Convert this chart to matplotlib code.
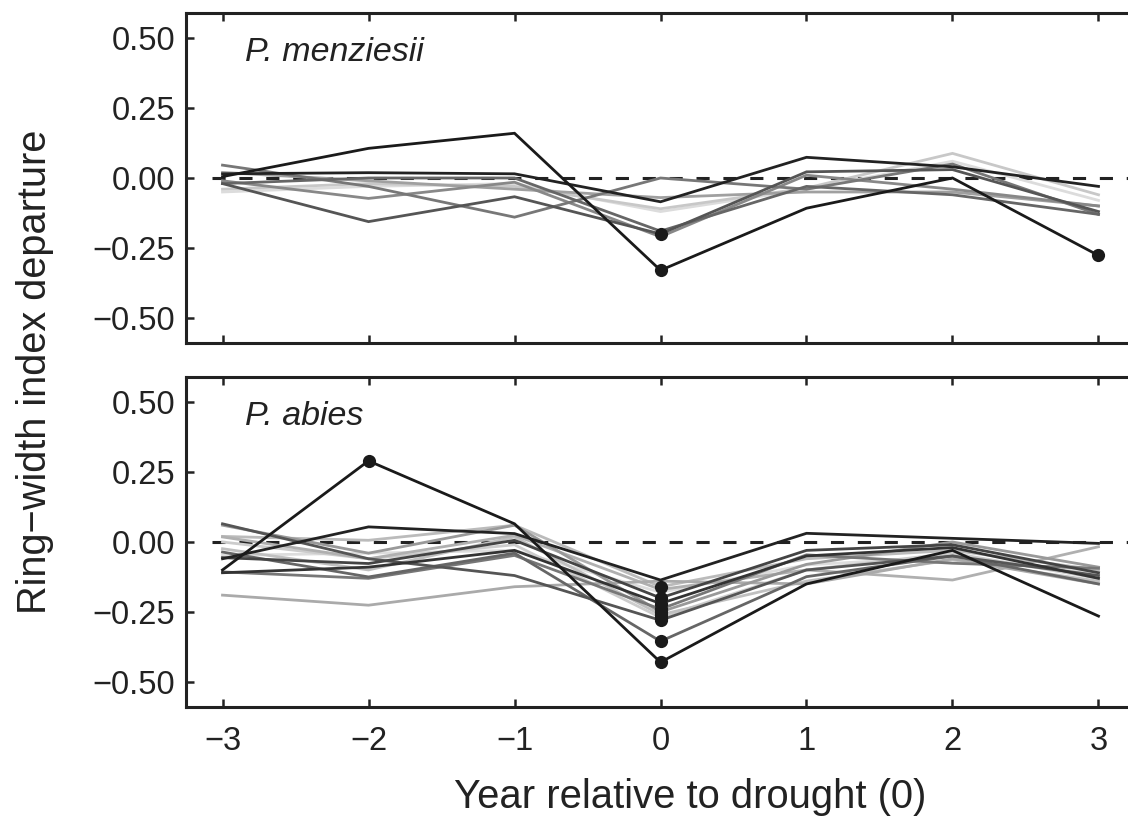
import matplotlib
matplotlib.use("Agg")
import matplotlib.pyplot as plt

plt.rcParams['font.family'] = ['Liberation Sans', 'DejaVu Sans']

years = [-3, -2, -1, 0, 1, 2, 3]
xtick_labels = ['\u22123', '\u22122', '\u22121', '0', '1', '2', '3']
yticks = [-0.50, -0.25, 0.0, 0.25, 0.50]

# P. menziesii: one series per site, grey level per series
menz_series = [
    [0.005, 0.106, 0.160, -0.330, -0.108, 0.000, -0.277],
    [0.015, 0.019, 0.015, -0.085, 0.074, 0.040, -0.030],
    [-0.020, -0.156, -0.067, -0.200, 0.022, 0.030, -0.120],
    [0.046, -0.030, -0.140, 0.000, -0.040, 0.050, -0.130],
    [-0.010, -0.073, -0.015, -0.210, 0.010, -0.040, -0.100],
    [-0.040, -0.020, -0.030, -0.110, -0.036, 0.088, -0.060],
    [-0.050, -0.030, -0.020, -0.120, -0.040, 0.060, -0.080],
    [0.020, -0.010, -0.040, -0.070, -0.050, -0.050, -0.100],
    [-0.020, 0.000, 0.000, -0.190, -0.030, -0.060, -0.130],
]
menz_colors = ['#1a1a1a', '#222222', '#555555', '#777777', '#888888',
               '#c8c8c8', '#dcdcdc', '#a0a0a0', '#666666']
# significant departures: (series index, year index)
menz_sig = [(0, 3), (0, 6), (2, 3)]

# P. abies
abies_series = [
    [-0.100, 0.290, 0.065, -0.430, -0.150, -0.030, -0.265],
    [-0.060, 0.054, 0.030, -0.136, 0.031, 0.013, -0.005],
    [-0.110, -0.090, -0.030, -0.220, -0.050, -0.020, -0.130],
    [0.065, -0.060, -0.120, -0.280, -0.100, -0.050, -0.120],
    [-0.190, -0.226, -0.160, -0.140, -0.150, -0.060, -0.150],
    [0.060, -0.040, 0.060, -0.250, -0.080, 0.000, -0.090],
    [0.020, 0.006, 0.060, -0.160, -0.060, -0.030, -0.100],
    [-0.056, -0.077, 0.006, -0.200, -0.030, -0.010, -0.110],
    [-0.036, -0.125, -0.040, -0.355, -0.124, -0.050, -0.150],
    [-0.024, -0.100, 0.018, -0.260, -0.140, -0.064, -0.140],
    [0.018, -0.060, 0.024, -0.170, -0.100, -0.136, -0.017],
    [-0.107, -0.130, -0.048, -0.240, -0.046, -0.076, -0.094],
    [-0.048, -0.040, -0.030, -0.180, -0.082, -0.052, -0.110],
    [0.000, -0.060, -0.010, -0.270, -0.100, -0.040, -0.130],
]
abies_colors = ['#1a1a1a', '#222222', '#333333', '#555555', '#aaaaaa',
                '#999999', '#bbbbbb', '#444444', '#666666', '#c0c0c0',
                '#b0b0b0', '#777777', '#dddddd', '#cccccc']
abies_sig = [(0, 1), (0, 3), (2, 3), (3, 3), (5, 3), (6, 3), (7, 3),
             (8, 3), (9, 3), (11, 3), (13, 3)]

panels = [
    ('P. menziesii', menz_series, menz_colors, menz_sig),
    ('P. abies', abies_series, abies_colors, abies_sig),
]

ink = '#222222'
fig = plt.figure(figsize=(11.28, 8.22), dpi=100)
ax_left = 0.1649
ax_width = 0.8413
ax_height = 0.4015
bottoms = [0.5827, 0.1399]

for (name, series, colors, sig), bottom in zip(panels, bottoms):
    ax = fig.add_axes([ax_left, bottom, ax_width, ax_height])
    ax.plot([-3.07, 3.3], [0, 0], color=ink, lw=2.2,
            ls=(0, (4.3, 4.5)), zorder=1)
    # light series first so dark ones sit on top
    order = sorted(range(len(series)),
                   key=lambda i: -int(colors[i][1:3], 16))
    for i in order:
        ax.plot(years, series[i], color=colors[i], lw=2.0,
                solid_joinstyle='miter', zorder=2)
    for i, j in sig:
        ax.plot(years[j], series[i][j], 'o', color='#1a1a1a',
                ms=9.5, mew=0, zorder=4)
    ax.set_xlim(-3.25, 3.25)
    ax.set_ylim(-0.59, 0.59)
    ax.set_xticks(years)
    ax.set_yticks(yticks)
    ax.set_yticklabels(['\u22120.50', '\u22120.25', '0.00', '0.25', '0.50'])
    ax.spines['right'].set_visible(False)
    for s in ('left', 'top', 'bottom'):
        ax.spines[s].set_linewidth(2.2)
        ax.spines[s].set_color(ink)
    ax.tick_params(axis='both', direction='in', length=5.8, width=1.8,
                   color=ink, labelcolor=ink, labelsize=23.5)
    ax.tick_params(axis='x', top=True, pad=14)
    ax.tick_params(axis='y', pad=8)
    ax.text(0.0622, 0.855, name, transform=ax.transAxes, style='italic',
            fontsize=24.5, color=ink, va='baseline', ha='left')
    if bottom == bottoms[0]:
        ax.tick_params(axis='x', labelbottom=False)
    else:
        ax.set_xticklabels(xtick_labels)
        ax.set_xlabel('Year relative to drought (0)', fontsize=28.8,
                      color=ink)
        ax.xaxis.set_label_coords(0.531, -0.215)

fig.text(0.031, 1 - 372 / 822, 'Ring\u2212width index departure',
         rotation=90, fontsize=28.6, color=ink, ha='center', va='center')

fig.savefig('out.png', dpi=100)
